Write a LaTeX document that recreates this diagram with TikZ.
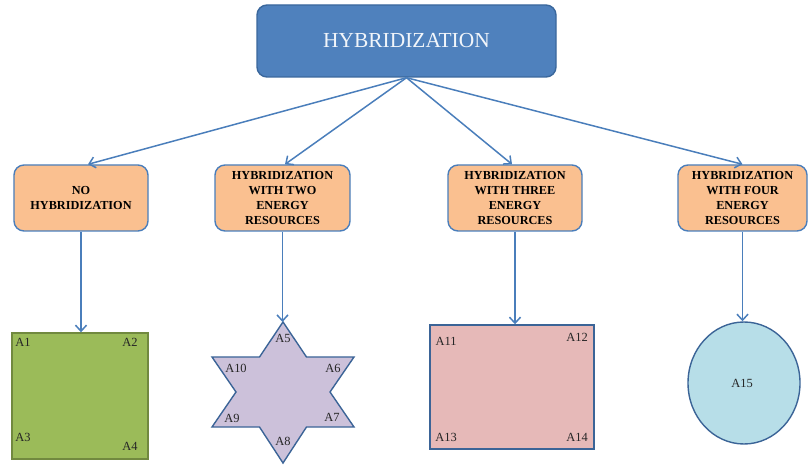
\documentclass[tikz,border=0pt]{standalone}
\usepackage{fontspec}
\setmainfont{Liberation Serif}
\usetikzlibrary{arrows.meta,shapes.geometric}
\definecolor{topfill}{HTML}{4F81BD}
\definecolor{topline}{HTML}{3A679C}
\definecolor{orfill}{HTML}{FAC090}
\definecolor{orline}{HTML}{4A7EBB}
\definecolor{arrowc}{HTML}{4A7EBB}
\definecolor{grfill}{HTML}{9BBB59}
\definecolor{grline}{HTML}{71893F}
\definecolor{stfill}{HTML}{CCC1DA}
\definecolor{pkfill}{HTML}{E6B9B8}
\definecolor{cifill}{HTML}{B7DEE8}
\definecolor{shline}{HTML}{3B6497}
\tikzset{
  topbox/.style={draw=topline, line width=1.4pt, fill=topfill, rounded corners=10bp,
    minimum width=299bp, minimum height=72bp, text=white!92!topfill,
    font=\fontsize{21.5}{24}\selectfont},
  catbox/.style={draw=orline, line width=1.4pt, fill=orfill, rounded corners=10bp,
    minimum height=66bp, align=center, inner sep=1pt,
    font=\bfseries\fontsize{12.3}{15}\selectfont},
  conn/.style={draw=arrowc, line width=1.5pt, -{Straight Barb[length=6bp,width=11bp,line width=1.5pt]}},
  lbl/.style={font=\fontsize{12.5}{14}\selectfont, text=black!85, inner sep=0pt},
  shapeline/.style={draw=shline, line width=1.4pt}
}
\begin{document}
\begin{tikzpicture}[x=1bp,y=-1bp]
\useasboundingbox (0,0) rectangle (809,466);
\node[topbox] (top) at (406.5,41) {HYBRIDIZATION};
\node[catbox, minimum width=134bp] (b1) at (81,198) {NO\\HYBRIDIZATION};
\node[catbox, minimum width=135bp] (b2) at (282.5,198) {HYBRIDIZATION\\WITH TWO\\ENERGY\\RESOURCES};
\node[catbox, minimum width=134bp] (b3) at (515,198) {HYBRIDIZATION\\WITH THREE\\ENERGY\\RESOURCES};
\node[catbox, minimum width=129bp] (b4) at (742.5,198) {HYBRIDIZATION\\WITH FOUR\\ENERGY\\RESOURCES};
% bottom shapes
\node[draw=grline, line width=1.4pt, fill=grfill, minimum width=136bp, minimum height=126bp] (sq) at (80,396) {};
\coordinate (s0) at (283,322);
\coordinate (s1) at (306.5,357);
\coordinate (s2) at (354,357);
\coordinate (s3) at (330,392);
\coordinate (s4) at (354,427);
\coordinate (s5) at (306.5,427);
\coordinate (s6) at (283,463);
\coordinate (s7) at (259.5,427);
\coordinate (s8) at (212,427);
\coordinate (s9) at (236,392);
\coordinate (s10) at (212,357);
\coordinate (s11) at (259.5,357);
\draw[shapeline, fill=stfill, line join=miter] (s0) -- (s1) -- (s2) -- (s3) -- (s4) -- (s5) -- (s6) -- (s7) -- (s8) -- (s9) -- (s10) -- (s11) -- cycle;
\node[shapeline, fill=pkfill, minimum width=164bp, minimum height=124bp] (rc) at (512,387) {};
\node[shapeline, fill=cifill, ellipse, minimum width=112bp, minimum height=122bp, inner sep=0pt] (ci) at (744,383) {};
% connectors
\draw[conn] (top.south) -- ([xshift=7bp]b1.north);
\draw[conn] (top.south) -- ([xshift=2.5bp]b2.north);
\draw[conn] (top.south) -- ([xshift=-3bp]b3.north);
\draw[conn] (top.south) -- (b4.north);
\draw[conn] (b1.south) -- (b1.south |- sq.north);
\draw[conn] (b2.south) -- (b2.south |- s0);
\draw[conn] (b3.south) -- (b3.south |- rc.north);
\draw[conn] (b4.south) -- (b4.south |- ci.north);
% labels
\node[lbl] (a1) at (23,342) {A1};
\node[lbl] (a2) at (130,342) {A2};
\node[lbl] (a3) at (23,437) {A3};
\node[lbl] (a4) at (130,446) {A4};
\node[lbl] (a5) at (283,338) {A5};
\node[lbl] (a6) at (333,368) {A6};
\node[lbl] (a7) at (332,417) {A7};
\node[lbl] (a8) at (283,441) {A8};
\node[lbl] (a9) at (232,418) {A9};
\node[lbl] (a10) at (236,368) {A10};
\node[lbl] (a11) at (446,341) {A11};
\node[lbl] (a12) at (577,337) {A12};
\node[lbl] (a13) at (446,437) {A13};
\node[lbl] (a14) at (577,437) {A14};
\node[lbl] (a15) at (742,383) {A15};
\end{tikzpicture}
\end{document}
